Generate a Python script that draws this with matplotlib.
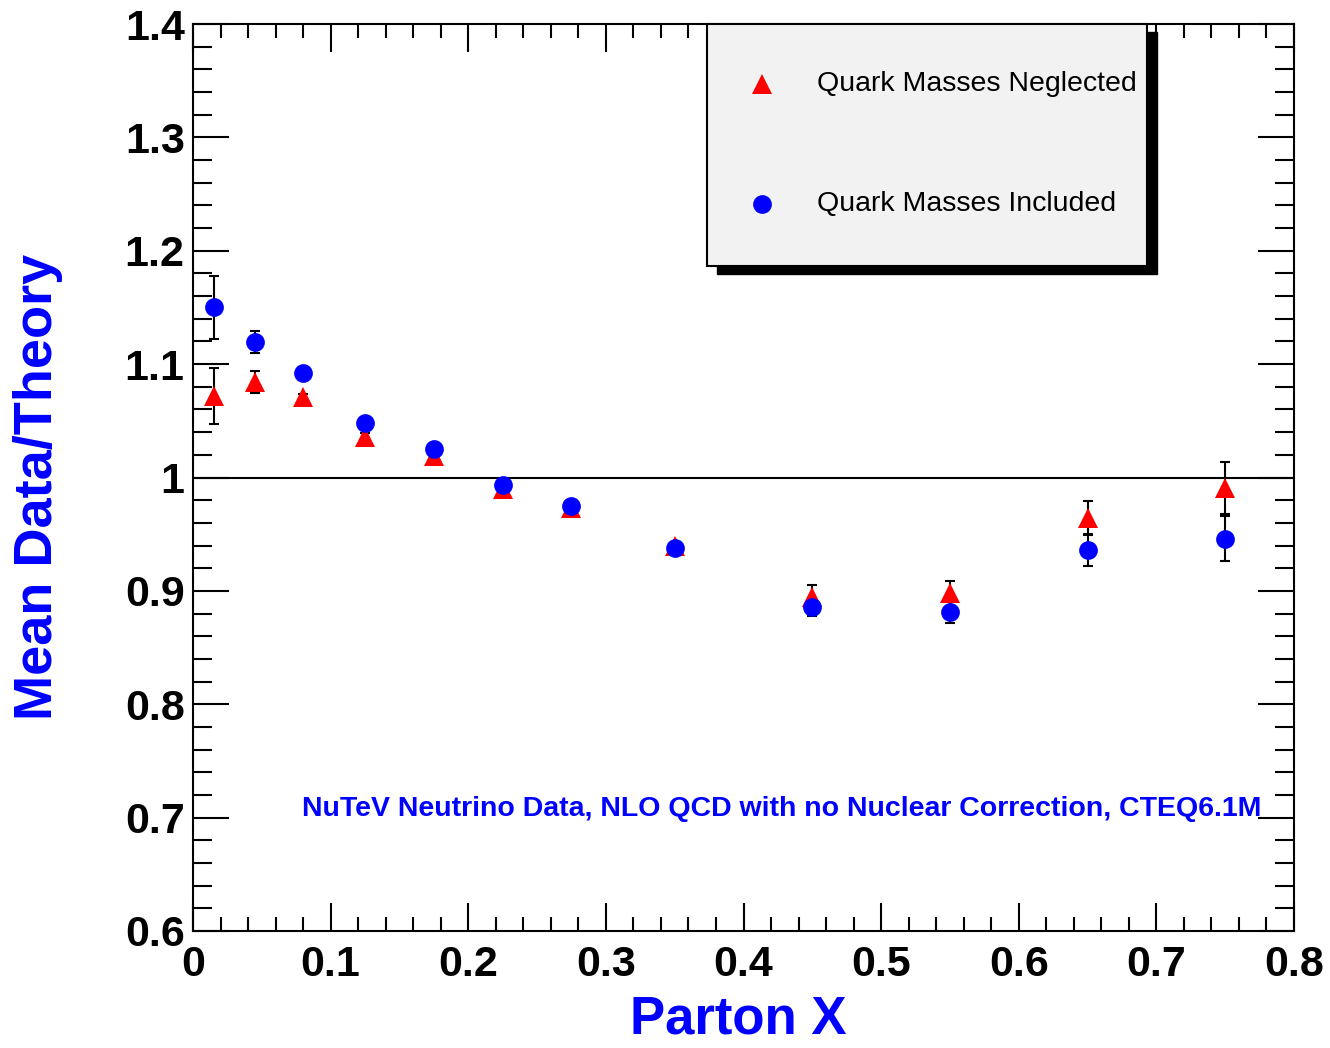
import matplotlib
matplotlib.use("Agg")
import matplotlib.pyplot as plt
from matplotlib.patches import Rectangle
from matplotlib.ticker import MultipleLocator
import matplotlib.transforms as mtransforms

plt.rcParams['font.family'] = ['Liberation Sans', 'DejaVu Sans']

# Data
x_vals = [0.015, 0.045, 0.080, 0.125, 0.175, 0.225, 0.275, 0.350, 0.450, 0.550, 0.650, 0.750]
neglected = [1.072, 1.084, 1.071, 1.036, 1.019, 0.990, 0.973, 0.940, 0.895, 0.898, 0.964, 0.991]
neglected_err = [0.025, 0.0097, 0.003, 0.003, 0.003, 0.002, 0.002, 0.003, 0.010, 0.011, 0.015, 0.023]
included = [1.150, 1.1195, 1.092, 1.048, 1.025, 0.993, 0.975, 0.938, 0.886, 0.881, 0.936, 0.946]
included_err = [0.028, 0.0097, 0.003, 0.003, 0.003, 0.002, 0.002, 0.003, 0.008, 0.009, 0.014, 0.020]

label_neg = "Quark Masses Neglected"
label_inc = "Quark Masses Included"
xlabel = "Parton X"
ylabel = "Mean Data/Theory"
note = "NuTeV Neutrino Data, NLO QCD with no Nuclear Correction, CTEQ6.1M"

fig = plt.figure(figsize=(13.3, 10.48), dpi=100)
ax = fig.add_axes([193/1330, 117/1048, 1101/1330, 907/1048])

ax.set_xlim(0, 0.8)
ax.set_ylim(0.6, 1.4)

ax.axhline(1.0, color='black', lw=1.5, zorder=1)

ax.errorbar(x_vals, neglected, yerr=neglected_err, fmt='none', ecolor='black',
            elinewidth=1.5, capsize=3.5, capthick=1.5, zorder=2)
ax.errorbar(x_vals, included, yerr=included_err, fmt='none', ecolor='black',
            elinewidth=1.5, capsize=3.5, capthick=1.5, zorder=2)
ax.plot(x_vals, neglected, linestyle='none', marker='^', color='red', markersize=14,
        markeredgewidth=0, zorder=3)
ax.plot(x_vals, included, linestyle='none', marker='o', color='blue', markersize=13.5,
        markeredgewidth=0, zorder=4)

# Ticks
ax.xaxis.set_minor_locator(MultipleLocator(0.02))
ax.yaxis.set_minor_locator(MultipleLocator(0.02))
ax.set_xticks([0, 0.1, 0.2, 0.3, 0.4, 0.5, 0.6, 0.7, 0.8])
ax.set_xticklabels(['0', '0.1', '0.2', '0.3', '0.4', '0.5', '0.6', '0.7', '0.8'])
ax.set_yticks([0.6, 0.7, 0.8, 0.9, 1.0, 1.1, 1.2, 1.3, 1.4])
ax.set_yticklabels(['0.6', '0.7', '0.8', '0.9', '1', '1.1', '1.2', '1.3', '1.4'])
ax.tick_params(axis='x', which='major', direction='in', length=20, width=1.5,
               top=True, bottom=True, labelsize=31, pad=10)
ax.tick_params(axis='x', which='minor', direction='in', length=10, width=1.5,
               top=True, bottom=True)
ax.tick_params(axis='y', which='major', direction='in', length=26, width=1.5,
               left=True, right=True, labelsize=31, pad=6)
ax.tick_params(axis='y', which='minor', direction='in', length=14, width=1.5,
               left=True, right=True)
for lab in ax.get_xticklabels() + ax.get_yticklabels():
    lab.set_fontweight('bold')
for sp in ax.spines.values():
    sp.set_linewidth(1.5)

ax.set_xlabel(xlabel, fontsize=38, fontweight='bold', color='blue')
ax.xaxis.set_label_coords(0.495, -0.0705)
ax.set_ylabel(ylabel, fontsize=39, fontweight='bold', color='blue')
ax.yaxis.set_label_coords(-0.118, 0.49)

ax.text(0.97, 0.135, note, transform=ax.transAxes, ha='right', va='center',
        fontsize=20.5, fontweight='bold', color='blue')

# Legend box with shadow
lx0, lx1 = (707-193)/1101, (1147-193)/1101
ly0, ly1 = (931-266)/907, 1.0
shadow_off = mtransforms.offset_copy(ax.transAxes, fig=fig, x=10, y=-8, units='dots')
ax.add_patch(Rectangle((lx0, ly0), lx1-lx0, ly1-ly0, transform=shadow_off,
                       facecolor='black', edgecolor='black', clip_on=False, zorder=5))
ax.add_patch(Rectangle((lx0, ly0), lx1-lx0, ly1-ly0, transform=ax.transAxes,
                       facecolor='#f2f2f2', edgecolor='black', lw=1.5, clip_on=False, zorder=6))
mx = (762-193)/1101
tx = (817-193)/1101
r1 = (931-84)/907
r2 = (931-204)/907
ax.plot([mx], [r1], transform=ax.transAxes, marker='^', color='red', markersize=14,
        markeredgewidth=0, linestyle='none', clip_on=False, zorder=7)
ax.plot([mx], [r2], transform=ax.transAxes, marker='o', color='blue', markersize=13.5,
        markeredgewidth=0, linestyle='none', clip_on=False, zorder=7)
ax.text(tx, r1, label_neg, transform=ax.transAxes, ha='left', va='center', fontsize=20.5, zorder=8)
ax.text(tx, r2, label_inc, transform=ax.transAxes, ha='left', va='center', fontsize=20.5, zorder=8)

fig.savefig("out.png", dpi=100)
